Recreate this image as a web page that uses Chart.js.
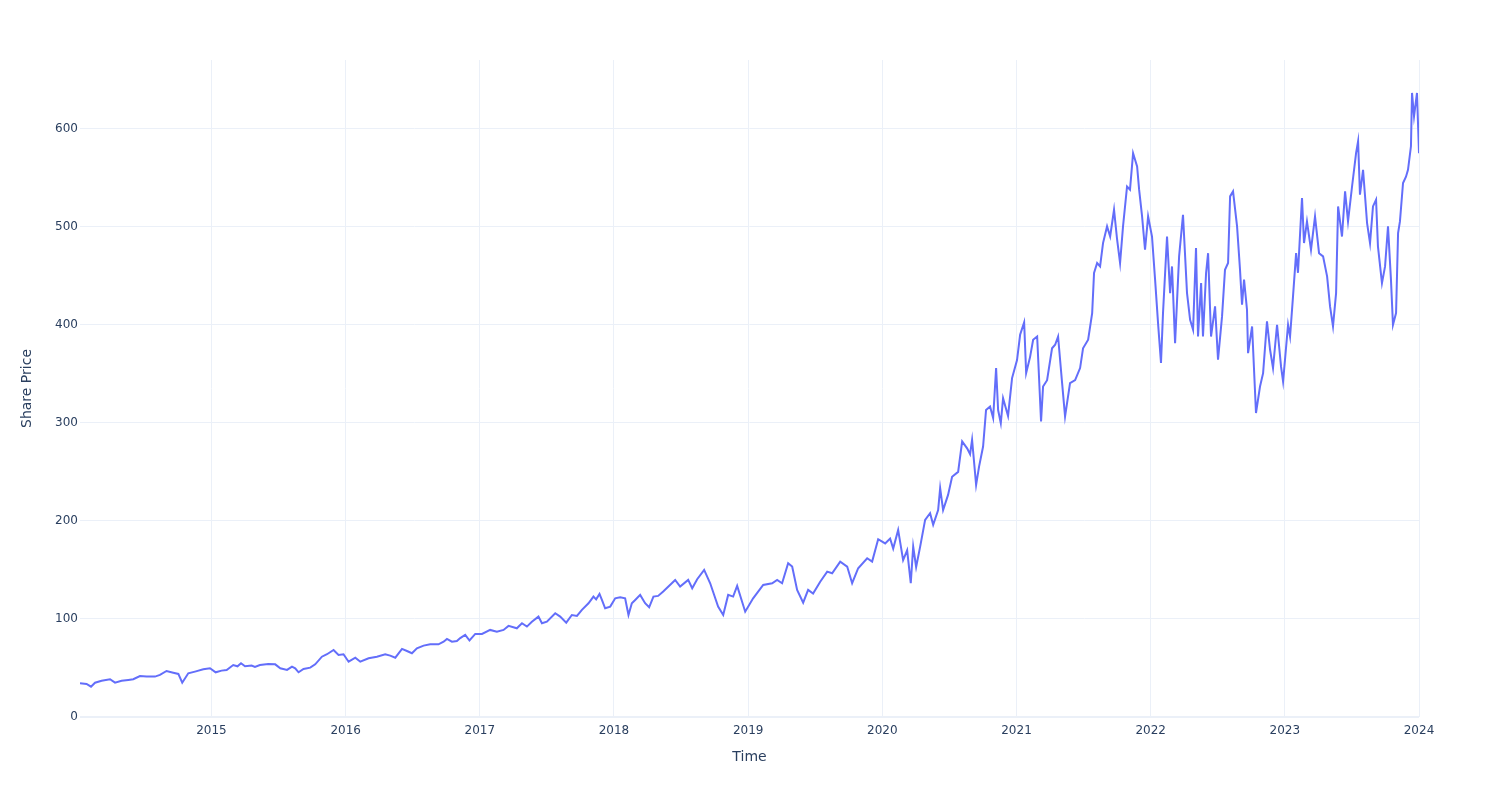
<!DOCTYPE html>
<html>
<head>
<meta charset="utf-8">
<script src="https://cdn.jsdelivr.net/npm/chart.js@4"></script>
<style>
  html, body { margin: 0; padding: 0; background: #fff; }
  #wrap { width: 1500px; height: 800px; }
</style>
</head>
<body>
<div id="wrap"><canvas id="chart" width="1500" height="800"></canvas></div>
<script>
// Share price (time in decimal years)
const times = [
  2014.020, 2014.069, 2014.102, 2014.132, 2014.181, 2014.244, 2014.281, 2014.330, 2014.380, 2014.417,
  2014.467, 2014.516, 2014.579, 2014.616, 2014.665, 2014.715, 2014.753, 2014.782, 2014.827, 2014.877,
  2014.939, 2014.989, 2015.031, 2015.075, 2015.113, 2015.162, 2015.194, 2015.220, 2015.250, 2015.299,
  2015.324, 2015.361, 2015.423, 2015.475, 2015.513, 2015.563, 2015.600, 2015.624, 2015.649, 2015.686,
  2015.736, 2015.773, 2015.823, 2015.861, 2015.910, 2015.947, 2015.984, 2016.022, 2016.072, 2016.109,
  2016.171, 2016.233, 2016.295, 2016.332, 2016.370, 2016.420, 2016.457, 2016.494, 2016.531, 2016.581,
  2016.630, 2016.692, 2016.730, 2016.755, 2016.792, 2016.829, 2016.854, 2016.891, 2016.923, 2016.966,
  2017.016, 2017.077, 2017.127, 2017.177, 2017.214, 2017.276, 2017.314, 2017.351, 2017.388, 2017.437,
  2017.463, 2017.500, 2017.562, 2017.599, 2017.644, 2017.686, 2017.724, 2017.761, 2017.810, 2017.847,
  2017.867, 2017.892, 2017.910, 2017.934, 2017.972, 2018.009, 2018.046, 2018.083, 2018.108, 2018.133,
  2018.158, 2018.195, 2018.232, 2018.262, 2018.294, 2018.329,
  2018.367, 2018.456, 2018.493, 2018.553, 2018.583, 2018.620, 2018.672,
  2018.717, 2018.776, 2018.814, 2018.851, 2018.888, 2018.918, 2018.978, 2019.037, 2019.112, 2019.179,
  2019.216, 2019.253, 2019.298, 2019.328, 2019.365, 2019.410, 2019.447, 2019.484, 2019.537, 2019.589,
  2019.626, 2019.686, 2019.738, 2019.775, 2019.820, 2019.887, 2019.924, 2019.969, 2020.021, 2020.058,
  2020.081, 2020.118, 2020.155, 2020.185, 2020.212, 2020.230, 2020.252, 2020.282, 2020.319, 2020.356,
  2020.379, 2020.416, 2020.431, 2020.453, 2020.490, 2020.520, 2020.565, 2020.595, 2020.632, 2020.654,
  2020.669, 2020.699, 2020.721, 2020.751, 2020.773, 2020.803, 2020.826, 2020.848, 2020.863, 2020.883,
  2020.900, 2020.937, 2020.967, 2021.004, 2021.027, 2021.057, 2021.072, 2021.101, 2021.124, 2021.154,
  2021.183, 2021.198, 2021.228, 2021.265, 2021.288, 2021.310, 2021.340, 2021.362, 2021.399, 2021.437,
  2021.474, 2021.496, 2021.534, 2021.564, 2021.578, 2021.601, 2021.623, 2021.645, 2021.675, 2021.698,
  2021.727, 2021.750, 2021.772, 2021.794, 2021.824, 2021.846, 2021.869, 2021.899, 2021.914, 2021.936,
  2021.958, 2021.981, 2022.010, 2022.033, 2022.055, 2022.077, 2022.092, 2022.122, 2022.145, 2022.159,
  2022.182, 2022.212, 2022.241, 2022.271, 2022.294, 2022.316, 2022.338, 2022.353, 2022.376, 2022.390,
  2022.413, 2022.428, 2022.450, 2022.480, 2022.502, 2022.532, 2022.554, 2022.577, 2022.592, 2022.614,
  2022.644, 2022.666, 2022.681, 2022.696, 2022.718, 2022.726, 2022.756, 2022.785, 2022.815, 2022.838,
  2022.867, 2022.890, 2022.912, 2022.942, 2022.972, 2022.987, 2023.024, 2023.039, 2023.061, 2023.084,
  2023.098, 2023.128, 2023.143, 2023.165, 2023.195, 2023.225, 2023.255, 2023.285, 2023.315, 2023.337,
  2023.359, 2023.382, 2023.397, 2023.426, 2023.449, 2023.471, 2023.501, 2023.531, 2023.546, 2023.560,
  2023.583, 2023.598, 2023.613, 2023.635, 2023.657, 2023.680, 2023.694, 2023.724, 2023.747, 2023.769,
  2023.791, 2023.806, 2023.829, 2023.844, 2023.858, 2023.881, 2023.903, 2023.918, 2023.940, 2023.948,
  2023.963, 2023.985, 2024.000
];

const prices = [
  34.4, 33.7, 30.9, 35.0, 37.0, 38.5, 35.0, 37.0, 37.8, 38.5,
  41.8, 41.2, 41.2, 42.9, 46.9, 45.2, 43.9, 35.0, 44.6, 46.3,
  48.6, 49.7, 45.6, 47.3, 48.0, 53.0, 51.7, 54.8, 51.7, 52.4,
  51.0, 53.0, 54.0, 53.7, 49.7, 48.0, 51.4, 49.7, 45.6, 49.0,
  50.3, 53.7, 61.5, 64.0, 68.4, 63.3, 64.0, 56.4, 60.5, 56.4,
  59.9, 61.5, 64.0, 62.6, 60.5, 69.4, 67.3, 65.0, 70.0, 72.8,
  74.1, 74.1, 76.8, 79.6, 76.8, 77.5, 80.5, 83.7, 78.0, 84.7,
  84.7, 88.8, 87.0, 88.8, 92.9, 90.5, 95.6, 92.2, 97.2, 102.4,
  95.6, 97.2, 105.8, 102.4, 96.2, 104.0, 103.0, 109.2, 116.0, 122.8,
  120.0, 125.5, 119.4, 110.9, 112.6, 121.0, 122.0, 121.0, 104.0, 116.0,
  119.4, 124.5, 116.0, 111.9, 122.8, 123.5,
  127.9, 139.8, 133.0, 139.8, 131.3, 140.5, 150.0,
  136.4, 112.6, 104.0, 124.5, 122.8, 133.7, 107.4, 121.0, 134.7, 136.4,
  139.8, 136.4, 156.8, 153.4, 129.6, 116.6, 129.6, 126.0, 138.0, 148.3,
  146.6, 158.5, 153.4, 136.4, 151.7, 161.9, 158.5, 181.3, 177.0, 182.0,
  171.8, 190.8, 160.0, 170.0, 136.4, 173.8, 153.0, 173.8, 201.0, 207.8,
  196.0, 211.0, 233.4, 211.0, 226.5, 245.0, 250.0, 281.0, 274.0, 268.0,
  282.7, 236.7, 255.4, 275.8, 313.0, 316.6, 304.8, 355.8, 313.0, 299.7,
  325.0, 307.0, 345.6, 364.0, 389.8, 402.4, 350.7, 367.0, 384.7, 388.0,
  301.3, 337.0, 343.5, 376.0, 379.6, 388.0, 340.5, 306.4, 340.5, 343.5,
  355.8, 376.0, 384.7, 411.9, 452.8, 463.0, 459.5, 483.3, 500.3, 490.0,
  517.3, 486.7, 463.0, 500.3, 541.0, 537.8, 575.0, 561.5, 537.8, 510.5,
  476.5, 510.5, 490.0, 446.0, 401.7, 361.0, 411.9, 490.0, 432.3, 459.5,
  381.3, 469.7, 512.2, 432.3, 405.0, 395.0, 478.3, 388.0, 442.5, 388.0,
  452.8, 473.0, 388.0, 418.7, 364.3, 408.5, 456.0, 463.0, 530.9, 536.0,
  500.3, 456.0, 420.4, 446.0, 415.3, 371.0, 398.3, 310.0, 337.0, 350.7,
  403.4, 374.5, 355.8, 400.0, 357.0, 342.0, 400.0, 388.0, 428.9, 473.0,
  453.0, 529.3, 483.3, 505.4, 476.5, 510.5, 473.0, 469.7, 449.3, 418.7,
  398.3, 432.3, 520.7, 490.0, 536.0, 505.4, 541.0, 575.0, 587.0, 532.6,
  558.0, 531.0, 503.7, 483.3, 520.7, 527.6, 480.0, 442.5, 459.5, 500.3,
  446.0, 400.0, 412.0, 493.5, 505.4, 544.6, 551.0, 558.0, 582.0, 636.4,
  612.6, 636.4, 575.0
];

const yearTicks = [2015, 2016, 2017, 2018, 2019, 2020, 2021, 2022, 2023, 2024];
const priceTicks = [0, 100, 200, 300, 400, 500, 600];

const TEXT = '#2a3f5f';
const GRID = '#ebf0f8';
const LINE = '#636efa';
const FONT = 'DejaVu Sans';

const points = times.map((t, i) => ({ x: t, y: prices[i] }));

new Chart(document.getElementById('chart'), {
  type: 'line',
  data: {
    datasets: [{
      label: 'Share Price',
      data: points,
      borderColor: LINE,
      borderWidth: 2,
      pointRadius: 0,
      tension: 0,
      fill: false
    }]
  },
  options: {
    responsive: false,
    animation: false,
    layout: { padding: { top: 60, right: 81, left: 0, bottom: 0 } },
    plugins: {
      legend: { display: false },
      tooltip: { enabled: false }
    },
    scales: {
      x: {
        type: 'linear',
        bounds: 'data',
        min: times[0],
        max: 2024,
        border: { display: false },
        grid: { color: GRID, lineWidth: 1, drawTicks: false },
        afterBuildTicks: s => { s.ticks = yearTicks.map(v => ({ value: v })); },
        afterFit: s => { s.height = 83; },
        ticks: {
          color: TEXT,
          font: { family: FONT, size: 12 },
          padding: 7,
          maxRotation: 0,
          autoSkip: false,
          callback: v => String(v)
        },
        title: {
          display: true,
          text: 'Time',
          color: TEXT,
          font: { family: FONT, size: 14 },
          padding: { top: 0, bottom: 34 }
        }
      },
      y: {
        type: 'linear',
        bounds: 'data',
        min: 0,
        max: 670,
        border: { display: false },
        grid: {
          color: GRID,
          lineWidth: c => (c.tick && c.tick.value === 0 ? 2 : 1),
          drawTicks: false
        },
        afterBuildTicks: s => { s.ticks = priceTicks.map(v => ({ value: v })); },
        afterFit: s => { s.width = 80; },
        ticks: {
          color: TEXT,
          font: { family: FONT, size: 12 },
          padding: 2,
          autoSkip: false,
          callback: v => String(v)
        },
        title: {
          display: true,
          text: 'Share Price',
          color: TEXT,
          font: { family: FONT, size: 14 },
          padding: { top: 19, bottom: 0 }
        }
      }
    }
  }
});
</script>
</body>
</html>
